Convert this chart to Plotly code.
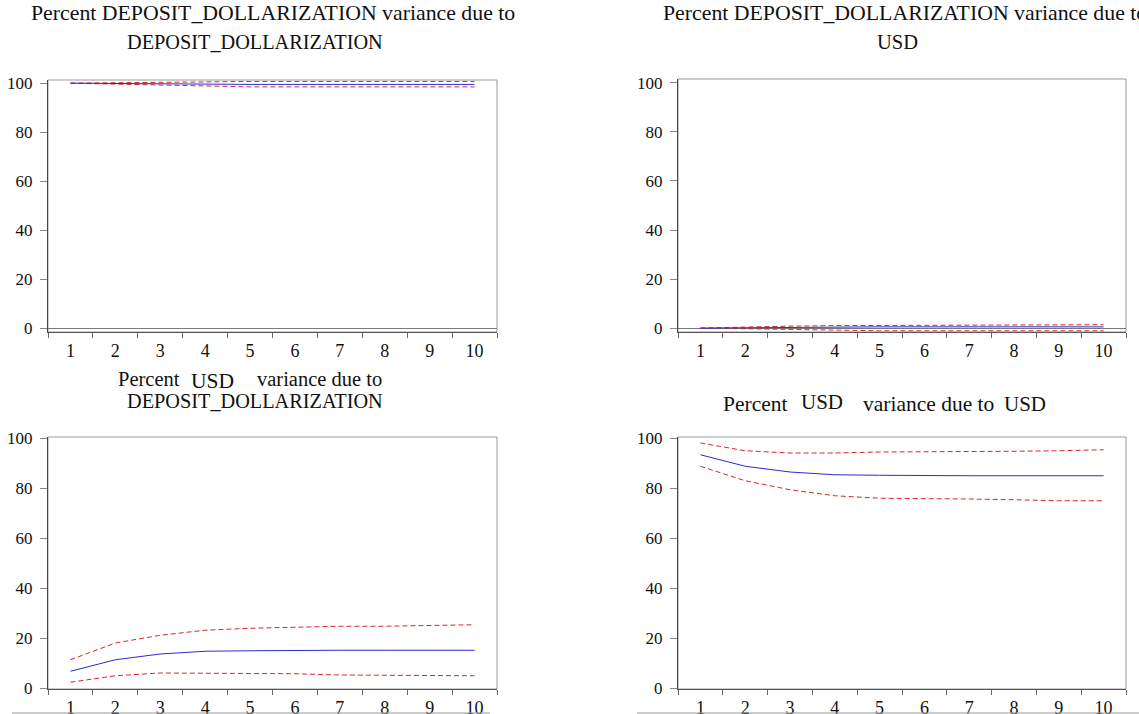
import plotly.graph_objects as go

W, H = 1139, 714

periods = list(range(1, 11))
period_labels = [str(p) for p in periods]
y_ticks = [0, 20, 40, 60, 80, 100]

# Percent DEPOSIT_DOLLARIZATION variance due to DEPOSIT_DOLLARIZATION
dd_dd_mean = [100.0, 99.8, 99.6, 99.5, 99.5, 99.5, 99.5, 99.5, 99.5, 99.5]
dd_dd_upper = [100.0, 100.2, 100.5, 100.7, 100.7, 100.7, 100.7, 100.7, 100.7, 100.7]
dd_dd_lower = [100.0, 99.6, 99.0, 98.6, 98.5, 98.5, 98.5, 98.5, 98.5, 98.5]

# Percent DEPOSIT_DOLLARIZATION variance due to USD
dd_usd_mean = [0.0, 0.2, 0.4, 0.5, 0.5, 0.5, 0.5, 0.5, 0.5, 0.5]
dd_usd_upper = [0.0, 0.5, 0.8, 1.0, 1.0, 1.0, 1.0, 1.0, 1.3, 1.4]
dd_usd_lower = [0.0, -0.3, -0.8, -1.1, -1.1, -1.1, -1.1, -1.1, -1.1, -1.1]

# Percent USD variance due to DEPOSIT_DOLLARIZATION
usd_dd_mean = [6.7, 11.3, 13.6, 14.7, 14.9, 15.1, 15.1, 15.1, 15.1, 15.1]
usd_dd_upper = [11.3, 18.0, 21.1, 23.1, 23.9, 24.3, 24.7, 24.7, 24.9, 25.3]
usd_dd_lower = [2.3, 4.9, 6.0, 6.0, 6.0, 5.7, 5.2, 5.2, 4.9, 4.9]

# Percent USD variance due to USD
usd_usd_mean = [93.3, 88.7, 86.4, 85.3, 85.1, 84.9, 84.9, 84.9, 84.9, 84.9]
usd_usd_upper = [98.0, 94.9, 94.0, 94.0, 94.4, 94.4, 94.7, 94.7, 94.9, 95.3]
usd_usd_lower = [88.7, 82.9, 79.3, 76.9, 75.9, 75.9, 75.6, 75.3, 74.9, 74.9]

panels = [
    (dd_dd_mean, dd_dd_upper, dd_dd_lower),
    (dd_usd_mean, dd_usd_upper, dd_usd_lower),
    (usd_dd_mean, usd_dd_upper, usd_dd_lower),
    (usd_usd_mean, usd_usd_upper, usd_usd_lower),
]

# pixel boxes: (left, right, top, bottom)
boxes = [(48, 497, 80, 332), (678, 1126, 79, 332), (48, 497, 437, 689), (678, 1126, 437, 689)]
yranges = [[-1.6, 101.3], [-1.6, 101.6], [-0.4, 100.4], [-0.4, 100.4]]
zerolines = [True, True, False, False]

FONT = "Liberation Serif"
BLUE = "#2b2bd0"
RED = "#d42a2a"

fig = go.Figure()
layout = dict(
    width=W, height=H,
    margin=dict(l=0, r=0, t=0, b=0),
    paper_bgcolor="white", plot_bgcolor="white",
    showlegend=False,
    font=dict(family=FONT, size=17, color="#111"),
)

shapes = []
for i, ((mean, up, lo), (l, r, t, b), yr, zl) in enumerate(zip(panels, boxes, yranges, zerolines)):
    n = "" if i == 0 else str(i + 1)
    xa, ya = "x" + n, "y" + n
    for vals, dash, color in ((up, "5px,3px", RED), (lo, "5px,3px", RED), (mean, "solid", BLUE)):
        fig.add_trace(go.Scatter(
            x=periods, y=vals, mode="lines", xaxis=xa, yaxis=ya,
            line=dict(color=color, width=1, dash=dash), hoverinfo="skip",
        ))
    layout["xaxis" + n] = dict(
        domain=[l / W, r / W], anchor=ya, range=[0.5, 10.5],
        tickmode="array", tickvals=periods, ticktext=period_labels,
        ticks="outside", ticklen=2, tickcolor="rgba(0,0,0,0)",
        minor=dict(tickmode="array", tickvals=[p + 0.5 for p in range(0, 11)],
                   ticks="outside", ticklen=5, tickcolor="#666", tickwidth=1, showgrid=False),
        showline=True, linecolor="#555", linewidth=1,
        showgrid=False, zeroline=False, automargin=False,
        tickfont=dict(family=FONT, size=18, color="#111"),
        fixedrange=True,
    )
    layout["yaxis" + n] = dict(
        domain=[1 - b / H, 1 - t / H], anchor=xa, range=yr,
        tickmode="array", tickvals=y_ticks,
        ticks="outside", ticklen=7, tickcolor="#888", tickwidth=1,
        ticklabelstandoff=4,
        showline=True, linecolor="#444", linewidth=1,
        showgrid=False, zeroline=zl, zerolinecolor="#777", zerolinewidth=1,
        automargin=False,
        tickfont=dict(family=FONT, size=17, color="#111"),
        fixedrange=True,
    )
    shapes.append(dict(type="rect", xref=xa + " domain", yref=ya + " domain",
                       x0=0, x1=1, y0=0, y1=1, line=dict(color="#999", width=1), layer="below"))

# thin separator lines at bottom of image
shapes.append(dict(type="line", xref="paper", yref="paper", x0=12 / W, x1=490 / W,
                   y0=1 - 713 / H, y1=1 - 713 / H, line=dict(color="#999", width=1)))
shapes.append(dict(type="line", xref="paper", yref="paper", x0=637 / W, x1=1139 / W,
                   y0=1 - 713 / H, y1=1 - 713 / H, line=dict(color="#999", width=1)))
layout["shapes"] = shapes


def ann(text, x, y_base, size=21, anchor="left"):
    # y_base: approximate text baseline in px; convert to middle
    yc = y_base - size * 0.3
    return dict(text=text, x=x / W, y=1 - yc / H, xref="paper", yref="paper",
                xanchor=anchor, yanchor="middle", showarrow=False, borderpad=0,
                font=dict(family=FONT, size=size, color="#111"))


annotations = [
    ann("Percent DEPOSIT_DOLLARIZATION variance due to", 30, 20, size=21.8),
    ann("DEPOSIT_DOLLARIZATION", 255, 48, size=20.3, anchor="center"),
    ann("Percent DEPOSIT_DOLLARIZATION variance due to", 662, 20, size=21.8),
    ann("USD", 897, 48, size=20.5, anchor="center"),
    ann("Percent", 117, 385, size=20.5),
    ann("USD", 190, 387, size=21.5),
    ann("variance due to", 256, 385, size=20.5),
    ann("DEPOSIT_DOLLARIZATION", 255, 407, size=20.3, anchor="center"),
    ann("Percent", 722, 410, size=21.5),
    ann("USD", 800, 408, size=21),
    ann("variance due to", 862, 410, size=21.5),
    ann("USD", 1003, 410, size=21),
]
layout["annotations"] = annotations

fig.update_layout(**layout)
fig.write_html("out.html", config={"displayModeBar": False},
               post_script="document.body.style.margin='0';")
